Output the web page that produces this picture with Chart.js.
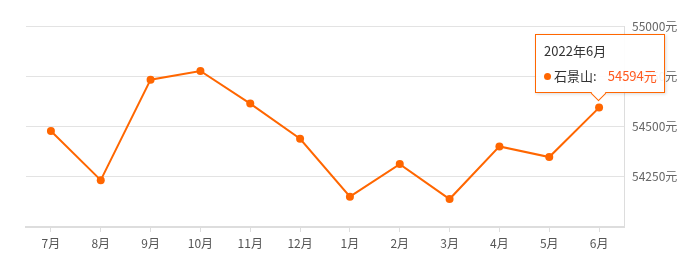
<!DOCTYPE html>
<html>
<head>
<meta charset="utf-8">
<script src="https://cdn.jsdelivr.net/npm/chart.js@4"></script>
<style>
  html, body { margin: 0; padding: 0; background: #fff; }
  #wrap { position: relative; width: 686px; height: 272px; }
  #tip {
    position: absolute; box-sizing: border-box; width: 130px; height: 59px;
    background: rgba(255,255,255,0.92); border: 1px solid #f60;
    box-shadow: 1px 1px 3px rgba(0,0,0,0.15);
    font-family: "Noto Sans CJK SC", sans-serif; font-size: 13px; color: #333;
    pointer-events: none; display: none;
  }
  #tip .t { position: absolute; left: 8px; top: 6px; font-size: 13px; }
  #tip .b { position: absolute; left: 8px; top: 31px; white-space: nowrap; }
  #tip .dot { display: inline-block; width: 7px; height: 7px; border-radius: 50%; background: #f60; margin-right: 3px; vertical-align: 1px; }
  #tip .v { color: #ff5a1f; font-size: 13px; margin-left: 11px; }
  #tip .caret {
    position: absolute; left: 57px; bottom: -7px; width: 10px; height: 10px;
    background: #fff; border-right: 1px solid #f60; border-bottom: 1px solid #f60;
    transform: rotate(45deg);
  }
</style>
</head>
<body>
<div id="wrap">
  <canvas id="myChart" width="686" height="272"></canvas>
  <div id="tip"><div class="t"></div><div class="b"></div><div class="caret"></div></div>
</div>
<script>
const meses = ['7月', '8月', '9月', '10月', '11月', '12月', '1月', '2月', '3月', '4月', '5月', '6月'];
const titulos = ['2021年7月', '2021年8月', '2021年9月', '2021年10月', '2021年11月', '2021年12月',
  '2022年1月', '2022年2月', '2022年3月', '2022年4月', '2022年5月', '2022年6月'];
const precos = [54478, 54233, 54733, 54776, 54614, 54439, 54151, 54313, 54139, 54401, 54348, 54594];
const serie = '石景山';
const eixoY = [54000, 54250, 54500, 54750, 55000];

const ctx = document.getElementById('myChart');
const tip = document.getElementById('tip');

function tooltipExterno(context) {
  const model = context.tooltip;
  if (model.opacity === 0 || !model.dataPoints || !model.dataPoints.length) {
    tip.style.display = 'none';
    return;
  }
  const p = model.dataPoints[0];
  tip.querySelector('.t').textContent = titulos[p.dataIndex];
  tip.querySelector('.b').innerHTML = '<span class="dot"></span>' + serie + ':<span class="v">' + p.raw + '元</span>';
  tip.style.display = 'block';
  tip.style.left = (model.caretX - 64) + 'px';
  tip.style.top = (model.caretY - 74) + 'px';
}

const grafico = new Chart(ctx, {
  type: 'line',
  data: {
    labels: meses,
    datasets: [{
      label: serie,
      data: precos,
      borderColor: '#f60',
      backgroundColor: '#f60',
      borderWidth: 2,
      pointRadius: 4,
      pointHoverRadius: 4,
      pointBorderWidth: 0,
      tension: 0
    }]
  },
  options: {
    responsive: false,
    animation: false,
    layout: { padding: { left: 26, top: 26, right: 0, bottom: 0 } },
    plugins: {
      legend: { display: false },
      tooltip: { enabled: false, external: tooltipExterno, mode: 'index', intersect: false }
    },
    scales: {
      x: {
        offset: true,
        afterFit: (s) => { s.height = 45; },
        grid: { offset: false, drawOnChartArea: false, drawTicks: true, tickLength: 5, color: '#ddd' },
        border: { color: '#ddd', width: 2 },
        ticks: { color: '#555', padding: 4, font: { family: 'Noto Sans CJK SC', size: 12 } }
      },
      y: {
        position: 'right',
        min: eixoY[0],
        max: eixoY[eixoY.length - 1],
        afterFit: (s) => { s.width = 62; },
        afterBuildTicks: (s) => { s.ticks = eixoY.map(v => ({ value: v })); },
        grid: { color: '#e3e3e3', drawTicks: false },
        border: { color: '#ddd', width: 1 },
        ticks: {
          color: '#666', padding: 8,
          font: { family: 'Noto Sans CJK SC', size: 12 },
          callback: (v) => v === eixoY[0] ? '' : v + '元'
        }
      }
    }
  }
});

grafico.tooltip.setActiveElements([{ datasetIndex: 0, index: precos.length - 1 }], { x: 0, y: 0 });
grafico.update();
</script>
</body>
</html>
